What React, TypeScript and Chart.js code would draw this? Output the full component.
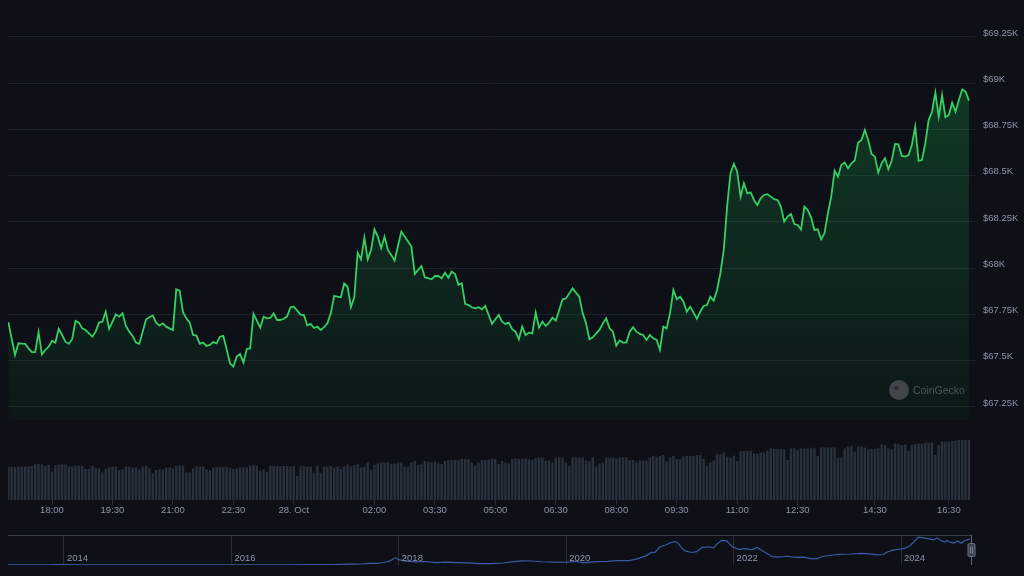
import React, { useEffect, useRef } from 'react';
import { Chart, registerables } from 'chart.js';

Chart.register(...registerables);

// ---- 5-minute BTC price (USD), 27 Oct 16:55 -> 28 Oct ~17:00 ----
const prices = [
  67708, 67619, 67531, 67594, 67592, 67591, 67567, 67546, 67546, 67654,
  67535, 67558, 67576, 67607, 67598, 67673, 67639, 67603, 67591, 67616,
  67715, 67706, 67675, 67666, 67648, 67630, 67657, 67706, 67711, 67765,
  67672, 67711, 67751, 67738, 67756, 67688, 67657, 67634, 67598, 67591,
  67657, 67724, 67735, 67745, 67706, 67690, 67702, 67684, 67675, 67666,
  67886, 67879, 67762, 67729, 67706, 67639, 67636, 67591, 67598, 67580,
  67585, 67601, 67594, 67630, 67634, 67562, 67486, 67468, 67522, 67536,
  67490, 67563, 67567, 67753, 67717, 67679, 67738, 67729, 67731, 67756,
  67720, 67720, 67727, 67740, 67789, 67792, 67771, 67749, 67747, 67691,
  67699, 67677, 67684, 67666, 67681, 67702, 67756, 67850, 67846, 67843,
  67918, 67900, 67789, 67843, 68084, 68048, 68165, 68048, 68099, 68210,
  68171, 68108, 68171, 68099, 68072, 68041, 68120, 68198, 68171, 68144,
  68117, 67969, 67991, 68012, 67951, 67946, 67940, 67958, 67958, 67946,
  67976, 67949, 67982, 67969, 67910, 67918, 67807, 67801, 67789, 67783,
  67789, 67778, 67796, 67747, 67699, 67724, 67747, 67711, 67699, 67706,
  67670, 67657, 67616, 67684, 67639, 67652, 67648, 67760, 67679, 67711,
  67688, 67706, 67733, 67717, 67774, 67832, 67836, 67864, 67891, 67868,
  67846, 67756, 67702, 67616, 67627, 67648, 67666, 67702, 67729, 67675,
  67657, 67582, 67609, 67598, 67598, 67657, 67681, 67657, 67645, 67639,
  67612, 67639, 67621, 67612, 67558, 67684, 67675, 67756, 67882, 67832,
  67846, 67819, 67765, 67792, 67760, 67727, 67765, 67796, 67801, 67846,
  67825, 67882, 67973, 68099, 68333, 68513, 68564, 68522, 68387, 68459,
  68405, 68410, 68369, 68342, 68378, 68396, 68400, 68387, 68373, 68369,
  68333, 68252, 68279, 68293, 68239, 68234, 68210, 68333, 68315, 68275,
  68207, 68210, 68156, 68189, 68297, 68387, 68527, 68495, 68558, 68571,
  68540, 68567, 68582, 68679, 68693, 68747, 68693, 68618, 68603, 68517,
  68567, 68594, 68535, 68582, 68672, 68670, 68607, 68603, 68612, 68666,
  68765, 68580, 68585, 68675, 68801, 68846, 68949, 68819, 68936, 68816,
  68828, 68895, 68846, 68909, 68967, 68954, 68906,
];

// ---- volume (billions USD), one bar per price point ----
const volumes = [
  16.7, 16.5, 16.5, 16.7, 16.5, 16.7, 16.7, 17.0, 17.8, 18.0,
  17.8, 17.0, 17.5, 14.2, 17.3, 17.7, 17.8, 17.8, 16.8, 16.8,
  17.3, 17.2, 17.0, 15.5, 15.5, 17.0, 16.0, 15.8, 13.8, 15.5,
  16.3, 16.7, 16.7, 15.0, 15.3, 16.7, 16.7, 16.3, 16.3, 15.3,
  16.7, 17.0, 15.8, 13.3, 15.0, 15.3, 15.3, 16.3, 16.3, 15.7,
  17.0, 17.2, 17.3, 13.8, 13.8, 15.8, 16.8, 16.8, 16.8, 15.3,
  15.0, 16.3, 16.5, 16.5, 16.5, 16.7, 16.3, 15.5, 15.8, 16.3,
  16.3, 16.3, 17.2, 17.5, 17.0, 14.5, 15.3, 14.2, 17.2, 17.2,
  17.0, 17.0, 17.0, 17.0, 16.7, 17.0, 12.0, 16.7, 17.0, 16.7,
  16.7, 13.7, 17.0, 13.7, 16.7, 16.7,
  17.0, 16.2, 16.7, 15.5, 16.7, 17.8, 16.7, 17.5, 17.8, 16.3,
  16.7, 18.7, 15.0, 17.5, 18.3, 18.7, 18.8, 18.7, 18.0, 18.3,
  18.7, 18.8, 16.7, 16.7, 18.8, 19.5, 17.5, 17.8, 19.5, 19.2,
  18.8, 19.2, 18.7, 18.0, 19.5, 20.0, 20.0, 20.0, 20.0, 20.5,
  20.5, 20.3, 18.8, 17.0, 18.7, 20.0, 20.0, 20.3, 20.8, 20.5,
  18.0, 19.5, 18.7, 18.3, 20.5, 20.8, 20.5, 20.5, 20.8, 20.3,
  20.0, 20.8, 21.3, 21.2, 19.5, 19.7, 18.8, 21.2, 21.3, 21.3,
  18.7, 17.0, 21.3, 21.3, 21.3, 21.3, 19.7, 19.5, 21.3, 16.7,
  18.3, 18.7, 21.2, 21.2, 21.2, 20.8, 21.3, 21.3, 21.3, 20.0,
  20.0, 18.8, 19.7, 19.7, 19.7, 21.3, 22.0, 21.7,
  22.0, 22.5, 19.2, 21.3, 22.0, 20.5, 20.5, 21.7, 22.0, 22.0,
  22.0, 22.5, 22.5, 20.5, 17.0, 18.8, 19.7, 22.8, 23.0, 23.7,
  21.7, 21.2, 22.2, 19.5, 24.5, 24.5, 24.5, 24.7, 23.3, 23.0,
  23.7, 23.8, 24.7, 25.8, 25.5, 25.5, 25.5, 25.3, 20.0, 25.8,
  25.8, 25.0, 25.8, 25.8, 25.8, 26.2, 25.8, 22.0, 26.3, 26.3,
  26.3, 26.3, 26.3, 21.2, 21.3, 25.8, 26.7, 27.0, 24.2, 26.7,
  26.7, 26.2, 25.3, 25.5, 25.5, 25.8, 27.8, 27.5, 25.8, 25.3,
  28.3, 28.0, 27.5, 27.8, 24.5, 27.5, 28.0, 28.3, 28.3, 28.7,
  28.7, 28.8, 22.5, 27.5, 29.2, 29.2, 29.2, 29.5, 29.7, 30.0,
  30.0, 30.0, 30.0,
];

// time-axis ticks: index of the 5-minute point and its label
const timeTickIndex = [13, 31, 49, 67, 85, 109, 127, 145, 163, 181, 199, 217, 235, 258, 280];
const timeTickLabels = ['18:00', '19:30', '21:00', '22:30', '28. Oct', '02:00', '03:30', '05:00', '06:30', '08:00', '09:30', '11:00', '12:30', '14:30', '16:30'];

const priceTicks = [67250, 67500, 67750, 68000, 68250, 68500, 68750, 69000, 69250];

// ---- navigator: full BTC history (year, price in thousands USD) ----
const navYears = [
  2013.33, 2013.6, 2013.8, 2013.92, 2014.0, 2014.2, 2014.45, 2014.7, 2014.95, 2015.2,
  2015.5, 2015.8, 2015.95, 2016.2, 2016.45, 2016.7, 2016.9, 2017.02, 2017.22, 2017.42,
  2017.55, 2017.65, 2017.74, 2017.82, 2017.88, 2017.92, 2017.96, 2018.0, 2018.05, 2018.12,
  2018.2, 2018.3, 2018.45, 2018.55, 2018.7, 2018.85, 2018.95, 2019.1, 2019.25, 2019.35,
  2019.47, 2019.59, 2019.71, 2019.87, 2020.0, 2020.12, 2020.2, 2020.35, 2020.5, 2020.6,
  2020.75, 2020.85, 2020.95, 2021.02, 2021.06, 2021.12, 2021.18, 2021.24, 2021.3, 2021.34,
  2021.38, 2021.42, 2021.5, 2021.56, 2021.62, 2021.7, 2021.76, 2021.8, 2021.86, 2021.92,
  2021.98, 2022.06, 2022.14, 2022.22, 2022.28, 2022.34, 2022.4, 2022.46, 2022.54, 2022.64,
  2022.74, 2022.84, 2022.92, 2023.0, 2023.06, 2023.14, 2023.26, 2023.4, 2023.52, 2023.63,
  2023.72, 2023.79, 2023.83, 2023.91, 2024.01, 2024.05, 2024.11, 2024.17, 2024.21, 2024.27,
  2024.33, 2024.39, 2024.43, 2024.49, 2024.53, 2024.55, 2024.59, 2024.63, 2024.68, 2024.72,
  2024.76, 2024.79, 2024.82,
];
const navPrices = [
  0.13, 0.1, 0.35, 1.0, 0.8, 0.5, 0.6, 0.45, 0.32, 0.25,
  0.28, 0.3, 0.43, 0.42, 0.65, 0.6, 0.75, 1.0, 1.2, 2.4,
  2.6, 4.5, 4.3, 6.5, 9.5, 14, 19.5, 14, 11.5, 9.5,
  8, 9.2, 6.5, 7.8, 6.5, 5.6, 3.7, 3.6, 5.2, 8,
  11, 10.5, 8.5, 7.5, 7.2, 9.8, 5.5, 8.8, 9.3, 11.5,
  11.4, 16, 24, 33, 33, 48, 52, 58, 62, 56,
  45, 37, 33, 35, 46, 48, 45, 55, 65, 63,
  49, 41, 43, 40, 46, 38, 30, 22, 21, 23,
  20, 20.5, 17, 16.8, 22.4, 25, 28, 29, 30.5, 29.4,
  26.5, 27.6, 33.8, 40, 42.5, 44.3, 51.3, 64.5, 73.2, 71.5,
  68.9, 66.2, 71.5, 62.7, 60.1, 64.5, 60.1, 57.5, 62.7, 57.5,
  64.5, 66.2, 68.2,
];
const navYearTicks = [2014, 2016, 2018, 2020, 2022, 2024];

const BG = '#0d1117';
const LABEL = '#8b95a9';
const FONT_FAMILY = '"Liberation Sans", Arial, Helvetica, sans-serif';
const FONT = { family: FONT_FAMILY, size: 9.5 };

const noPad = (s: any) => {
  s.paddingTop = 0;
  s.paddingBottom = 0;
  s.paddingLeft = 0;
  s.paddingRight = 0;
};

const navHandle = {
  id: 'navHandle',
  afterDraw(chart: any) {
    const { ctx, chartArea: a, scales } = chart;
    ctx.save();
    // year labels, drawn inside the navigator
    ctx.font = `9.5px ${FONT_FAMILY}`;
    ctx.fillStyle = LABEL;
    ctx.textBaseline = 'middle';
    ctx.textAlign = 'left';
    navYearTicks.forEach((yr) => {
      ctx.fillText(String(yr), scales.x.getPixelForValue(yr) + 3, a.bottom - 7);
    });
    // right edge + handle of the selected range
    ctx.strokeStyle = '#5d6674';
    ctx.lineWidth = 1;
    const x = Math.round(a.right) + 0.5;
    ctx.beginPath();
    ctx.moveTo(x, a.top);
    ctx.lineTo(x, a.bottom);
    ctx.stroke();
    const w = 7, h = 13;
    const cy = (a.top + a.bottom) / 2;
    ctx.fillStyle = '#3b4350';
    ctx.strokeStyle = '#6a7380';
    ctx.beginPath();
    ctx.roundRect(x - w / 2, cy - h / 2, w, h, 1.5);
    ctx.fill();
    ctx.stroke();
    ctx.beginPath();
    ctx.moveTo(x - 1, cy - 3.5); ctx.lineTo(x - 1, cy + 3.5);
    ctx.moveTo(x + 1, cy - 3.5); ctx.lineTo(x + 1, cy + 3.5);
    ctx.strokeStyle = '#7c8592';
    ctx.stroke();
    ctx.restore();
  },
};

export default function App() {
  const mainRef = useRef<HTMLCanvasElement | null>(null);
  const navRef = useRef<HTMLCanvasElement | null>(null);

  useEffect(() => {
    document.body.style.margin = '0';
    document.body.style.background = BG;
    const fillBase = 67180;
    const topPrice = Math.max(...prices);

    const main = new Chart(mainRef.current as HTMLCanvasElement, {
      type: 'line',
      data: {
        datasets: [
          {
            type: 'line',
            data: prices.map((y, i) => ({ x: i, y })),
            yAxisID: 'y',
            borderColor: '#35cf63',
            borderWidth: 1.8,
            pointRadius: 0,
            tension: 0,
            fill: { value: fillBase },
            backgroundColor: (context: any) => {
              const chart = context.chart;
              if (!chart.chartArea) return 'rgba(0,0,0,0)';
              const ys = chart.scales.y;
              const g = chart.ctx.createLinearGradient(0, ys.getPixelForValue(topPrice), 0, ys.getPixelForValue(fillBase));
              g.addColorStop(0, 'rgba(28,170,74,0.27)');
              g.addColorStop(1, 'rgba(28,170,74,0.04)');
              return g;
            },
            order: 1,
          } as any,
          {
            type: 'bar',
            data: volumes.map((y, i) => ({ x: i, y })),
            yAxisID: 'yv',
            backgroundColor: '#29313d',
            barPercentage: 0.72,
            categoryPercentage: 1,
            order: 2,
          } as any,
        ],
      },
      options: {
        responsive: false,
        animation: false,
        layout: { padding: { left: 8, right: 0, top: 0, bottom: 0 } },
        plugins: { legend: { display: false }, tooltip: { enabled: false } },
        scales: {
          x: {
            type: 'linear',
            offset: false,
            min: -0.1,
            max: 287.8,
            afterBuildTicks: (s: any) => { s.ticks = timeTickIndex.map((v) => ({ value: v })); },
            afterFit: (s: any) => { s.height = 20; noPad(s); },
            ticks: {
              autoSkip: false,
              maxRotation: 0,
              padding: 0,
              color: LABEL,
              font: FONT,
              callback: (v: any) => {
                const k = timeTickIndex.indexOf(Number(v));
                return k >= 0 ? timeTickLabels[k] : '';
              },
            },
            grid: { offset: false, drawOnChartArea: false, drawTicks: true, tickLength: 5, color: '#29303a' },
            border: { display: false },
          },
          y: {
            position: 'right',
            min: 66747,
            max: 69450,
            afterBuildTicks: (s: any) => { s.ticks = priceTicks.map((v) => ({ value: v })); },
            afterFit: (s: any) => { s.width = 49; noPad(s); },
            ticks: {
              padding: 8,
              labelOffset: -4,
              color: LABEL,
              font: FONT,
              callback: (v: any) => '$' + Number(v) / 1000 + 'K',
            },
            grid: { color: '#1d232b', drawTicks: false },
            border: { display: false },
          },
          yv: { display: false, min: 0, max: 250 },
        },
      } as any,
    });

    const nav = new Chart(navRef.current as HTMLCanvasElement, {
      type: 'line',
      data: {
        datasets: [
          {
            data: navYears.map((x, i) => ({ x, y: navPrices[i] })),
            borderColor: '#3a5aa3',
            borderWidth: 1.2,
            pointRadius: 0,
            tension: 0,
            fill: false,
          },
        ],
      },
      options: {
        responsive: false,
        animation: false,
        layout: { padding: { left: 8, right: 53, top: 15, bottom: 0 } },
        plugins: { legend: { display: false }, tooltip: { enabled: false } },
        scales: {
          x: {
            type: 'linear',
            min: 2013.331,
            max: 2024.836,
            afterBuildTicks: (s: any) => { s.ticks = navYearTicks.map((v) => ({ value: v })); },
            afterFit: (s: any) => { s.height = 11; noPad(s); },
            ticks: { display: false },
            grid: { drawTicks: false, color: '#262d37' },
            border: { display: false },
          },
          y: {
            min: 0,
            max: 79,
            afterBuildTicks: (s: any) => { s.ticks = [{ value: 79 }]; },
            afterFit: (s: any) => { s.width = 0; noPad(s); },
            ticks: { display: false },
            grid: { drawTicks: false, color: '#363e4a' },
            border: { display: false },
          },
        },
      } as any,
      plugins: [navHandle],
    });

    return () => {
      main.destroy();
      nav.destroy();
    };
  }, []);

  return (
    <div style={{ position: 'fixed', left: 0, top: 0, width: 1024, height: 576, background: BG, overflow: 'hidden' }}>
      <canvas ref={mainRef} width={1024} height={520} style={{ position: 'absolute', left: 0, top: 0, display: 'block' }} />
      <canvas ref={navRef} width={1024} height={56} style={{ position: 'absolute', left: 0, top: 520, display: 'block' }} />
      <div style={{ position: 'absolute', left: 889, top: 380, width: 20, height: 20, borderRadius: '50%', background: '#41464d' }}>
        <div style={{ position: 'absolute', left: 5, top: 6, width: 5, height: 4, borderRadius: '50%', background: '#2a2e33' }} />
      </div>
      <div style={{ position: 'absolute', left: 913, top: 383, fontFamily: FONT_FAMILY, fontSize: 10.5, lineHeight: '14px', color: '#4b5159' }}>CoinGecko</div>
    </div>
  );
}
